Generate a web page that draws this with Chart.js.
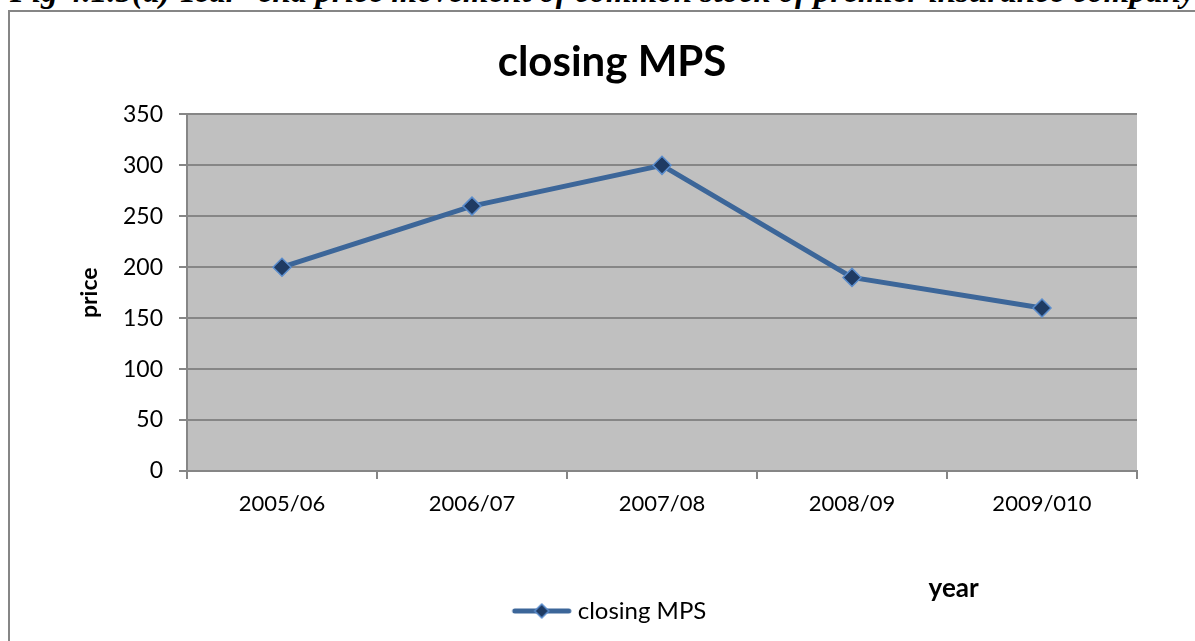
<!DOCTYPE html>
<html>
<head>
<meta charset="utf-8">
<script src="https://cdn.jsdelivr.net/npm/chart.js@4"></script>
<style>
  html, body { margin: 0; padding: 0; background: #fff; overflow: hidden; width: 1195px; height: 641px; }
  #caption {
    position: absolute; left: 10px; top: -25px; white-space: nowrap;
    font: italic bold 33px/33px "Liberation Serif", "Times New Roman", serif; color: #000;
  }
  #frame {
    position: absolute; left: 8px; top: 10px; width: 1208px; height: 650px;
    border: 2px solid #868686; box-sizing: border-box; background: #fff;
  }
  #wrap { position: absolute; left: 0; top: 0; width: 1204px; height: 646px; }
</style>
</head>
<body>
<div id="caption">Fig 4.1.5(a) Year- end price movement of common stock of premier insurance company</div>
<div id="frame"><div id="wrap"><canvas id="c"></canvas></div></div>
<script>
const years = ['2005/06', '2006/07', '2007/08', '2008/09', '2009/010'];
const closingMPS = [200, 260, 300, 190, 160];
const seriesName = 'closing MPS';
const yMin = 0, yMax = 350, yStep = 50;

const FONT = 'Lato, "Open Sans", "Noto Sans", sans-serif';
const LINE_COLOR = '#3c6699';
const MARK_FILL = '#1f3b63';
const MARK_EDGE = '#5a8ccc';

// legend key: line segment with a diamond marker on it
function legendKey() {
  const cv = document.createElement('canvas');
  cv.width = 62; cv.height = 20;
  const g = cv.getContext('2d');
  g.strokeStyle = LINE_COLOR; g.lineWidth = 5; g.lineCap = 'round';
  g.beginPath(); g.moveTo(4, 10); g.lineTo(58, 10); g.stroke();
  g.beginPath();
  g.moveTo(31, 3); g.lineTo(38, 10); g.lineTo(31, 17); g.lineTo(24, 10); g.closePath();
  g.fillStyle = MARK_FILL; g.fill();
  g.strokeStyle = MARK_EDGE; g.lineWidth = 1.5; g.stroke();
  return cv;
}

const plotBackground = {
  id: 'plotBackground',
  beforeDraw(chart) {
    const { ctx, chartArea: a } = chart;
    ctx.save();
    ctx.fillStyle = '#c0c0c0';
    ctx.fillRect(a.left, a.top, a.right - a.left, a.bottom - a.top);
    ctx.restore();
  }
};

const yearLabel = {
  id: 'yearLabel',
  afterDraw(chart) {
    const { ctx, chartArea: a } = chart;
    ctx.save();
    ctx.font = 'bold 26px ' + FONT;
    ctx.fillStyle = '#000';
    ctx.textAlign = 'center';
    ctx.textBaseline = 'middle';
    ctx.fillText('year', a.left + (a.right - a.left) * 0.807, a.bottom + 118);
    ctx.restore();
  }
};

new Chart(document.getElementById('c'), {
  type: 'line',
  data: {
    labels: years,
    datasets: [{
      label: seriesName,
      data: closingMPS,
      borderColor: LINE_COLOR,
      borderWidth: 5,
      tension: 0,
      pointStyle: 'rectRot',
      pointRadius: 9,
      pointBackgroundColor: MARK_FILL,
      pointBorderColor: MARK_EDGE,
      pointBorderWidth: 1.5
    }]
  },
  plugins: [plotBackground, yearLabel],
  options: {
    responsive: true,
    maintainAspectRatio: false,
    animation: false,
    events: [],
    layout: { padding: { left: 0, right: 0, top: 0, bottom: 25 } },
    plugins: {
      title: {
        display: true,
        text: seriesName,
        color: '#000',
        font: { family: FONT, size: 42, weight: 'bold' },
        padding: { top: 25, bottom: 27 }
      },
      legend: {
        position: 'bottom',
        labels: {
          usePointStyle: true,
          pointStyle: legendKey(),
          pointStyleWidth: 48,
          color: '#000',
          font: { family: FONT, size: 24 },
          padding: 10
        }
      },
      tooltip: { enabled: false }
    },
    scales: {
      x: {
        offset: true,
        grid: { offset: true, drawOnChartArea: false, drawTicks: true, tickLength: 8, color: '#868686', lineWidth: 2 },
        border: { color: '#868686', width: 2 },
        ticks: { color: '#000', font: { family: FONT, size: 22 }, padding: 12 },
        afterFit(scale) { scale.height = 118; }
      },
      y: {
        min: yMin, max: yMax,
        ticks: { stepSize: yStep, color: '#000', font: { family: FONT, size: 23 }, padding: 16 },
        grid: { color: '#868686', lineWidth: 2, tickLength: 8 },
        border: { color: '#868686', width: 2 },
        title: {
          display: true, text: 'price', color: '#000',
          font: { family: FONT, size: 23, weight: 'bold' },
          padding: { top: 66, bottom: 0 }
        },
        afterFit(scale) { scale.width = 177; }
      },
      // empty right-hand margin beside the plot area
      yRight: {
        position: 'right',
        min: yMin, max: yMax,
        grid: { display: false },
        border: { display: false },
        ticks: { display: false },
        afterFit(scale) { scale.width = 77; }
      }
    }
  }
});
</script>
</body>
</html>
